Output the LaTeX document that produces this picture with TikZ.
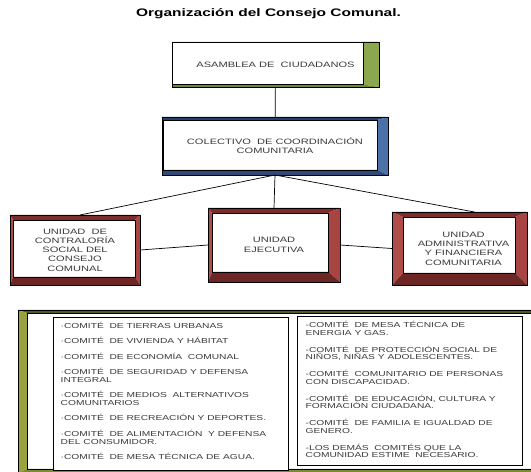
\documentclass[tikz,border=0pt]{standalone}
\usepackage{fontspec}
\usepackage{xcolor}
\usepackage{tikz}
\usetikzlibrary{calc,positioning}

\newfontfamily\orgfont{Liberation Sans}[FakeStretch=1.42]

\definecolor{textogris}{HTML}{3A3A3A}
% caras de los biseles: T arriba, R derecha, B abajo, L izquierda
\definecolor{verdeT}{HTML}{7D9A42}
\definecolor{verdeR}{HTML}{8CA84E}
\definecolor{verdeB}{HTML}{6E8A38}
\definecolor{verdeL}{HTML}{8CA84E}
\definecolor{azulT}{HTML}{24406A}
\definecolor{azulR}{HTML}{4A72A8}
\definecolor{azulB}{HTML}{2C4B7A}
\definecolor{azulL}{HTML}{4A72A8}
\definecolor{rojoT}{HTML}{7E2C2A}
\definecolor{rojoR}{HTML}{A84442}
\definecolor{rojoB}{HTML}{6C2624}
\definecolor{rojoL}{HTML}{B04C4A}
\definecolor{olivaT}{HTML}{4F5A20}
\definecolor{olivaR}{HTML}{98A23E}
\definecolor{olivaB}{HTML}{7E8932}
\definecolor{olivaL}{HTML}{98A23E}

% \bisel{nodo}{izq}{arriba}{der}{abajo}{color}
\newcommand{\bisel}[6]{%
  \coordinate (#1-inw) at ($(#1.north west)+(#2pt,-#3pt)$);
  \coordinate (#1-ine) at ($(#1.north east)+(-#4pt,-#3pt)$);
  \coordinate (#1-ise) at ($(#1.south east)+(-#4pt,#5pt)$);
  \coordinate (#1-isw) at ($(#1.south west)+(#2pt,#5pt)$);
  \fill[#6T] (#1.north west) -- (#1.north east) -- (#1-ine) -- (#1-inw) -- cycle;
  \fill[#6R] (#1.north east) -- (#1.south east) -- (#1-ise) -- (#1-ine) -- cycle;
  \fill[#6B] (#1.south east) -- (#1.south west) -- (#1-isw) -- (#1-ise) -- cycle;
  \fill[#6L] (#1.south west) -- (#1.north west) -- (#1-inw) -- (#1-isw) -- cycle;
  \draw[line width=0.5pt] (#1-inw) rectangle (#1-ise);
  \draw[line width=0.6pt] (#1.north west) rectangle (#1.south east);
}

\tikzset{
  caja/.style={inner sep=0pt,outer sep=0pt,align=center,text=textogris,
    font=\orgfont\fontsize{7.8}{9.3}\selectfont},
  lista/.style={inner sep=0pt,outer sep=0pt,align=left,anchor=north west,text=textogris,
    font=\orgfont\fontsize{7.2}{8}\selectfont},
}

\begin{document}
\begin{tikzpicture}[x=1pt,y=1pt]
  \useasboundingbox (0,0) rectangle (531,472);
  \clip (0,0) rectangle (531,472);

  \node[font=\orgfont\bfseries\fontsize{10.9}{12}\selectfont] (titulo) at (268.5,458)
    {Organización del Consejo Comunal.};

  \begin{scope}[every node/.style={caja}]
    \node[minimum width=207pt,minimum height=45pt] (asamblea) at (275.5,407.5)
      {ASAMBLEA DE\ \ CIUDADANOS};
    \node[minimum width=226pt,minimum height=58pt] (colectivo) at (275,326)
      {COLECTIVO\ \ DE COORDINACIÓN\\COMUNITARIA};
    \node[minimum width=130pt,minimum height=70pt] (contraloria) at (75,222)
      {UNIDAD\ \ DE\\CONTRALORÍA\\SOCIAL DEL\\CONSEJO\\COMUNAL};
    \node[minimum width=132pt,minimum height=74pt] (ejecutiva) at (274,227)
      {UNIDAD\\EJECUTIVA};
    \node[minimum width=135pt,minimum height=73pt] (financiera) at (459.5,223.5)
      {\hspace*{8pt}UNIDAD\\\hspace*{8pt}ADMINISTRATIVA\\\hspace*{8pt}Y FINANCIERA\\\hspace*{8pt}COMUNITARIA};
    \node[minimum width=522pt,minimum height=163pt] (marco) at (279,80.5) {};
  \end{scope}

  \bisel{asamblea}{0}{0}{16}{2.5}{verde}
  \bisel{colectivo}{1}{3}{11}{5}{azul}
  \bisel{contraloria}{3}{5}{5}{8}{rojo}
  \bisel{ejecutiva}{4}{5}{12}{10}{rojo}
  \bisel{financiera}{11}{5}{12}{12}{rojo}
  \bisel{marco}{9}{3}{0}{4}{oliva}

  \begin{scope}[every node/.style={draw=black,line width=0.6pt,fill=white,inner sep=0pt}]
    \node[minimum width=235pt,minimum height=153pt] (comitesA) at (170.5,78.5) {};
    \node[minimum width=225pt,minimum height=149pt] (comitesB) at (409.5,81.5) {};
  \end{scope}

  \node[lista] (listaA) at ([xshift=8pt,yshift=-5.5pt]comitesA.north west)
    {·COMITÉ\ \ DE TIERRAS URBANAS\\[7.3pt]
     ·COMITÉ\ \ DE VIVIENDA Y HÁBITAT\\[7.3pt]
     ·COMITÉ\ \ DE ECONOMÍA\ \ COMUNAL\\[7.3pt]
     ·COMITÉ\ \ DE SEGURIDAD Y DEFENSA\\INTEGRAL\\[7.3pt]
     ·COMITÉ\ \ DE MEDIOS\ \ ALTERNATIVOS\\COMUNITARIOS\\[7.3pt]
     ·COMITÉ\ \ DE RECREACIÓN Y DEPORTES.\\[7.3pt]
     ·COMITÉ\ \ DE ALIMENTACIÓN\ \ Y DEFENSA\\DEL CONSUMIDOR.\\[7.3pt]
     ·COMITÉ\ \ DE MESA TÉCNICA DE AGUA.};
  \node[lista,font=\orgfont\fontsize{7.2}{7.5}\selectfont] (listaB) at ([xshift=9pt,yshift=-6pt]comitesB.north west)
    {-COMITÉ\ \ DE MESA TÉCNICA DE\\ENERGIA Y GAS.\\[9.5pt]
     -COMITÉ\ \ DE PROTECCIÓN SOCIAL DE\\NIÑOS, NIÑAS Y ADOLESCENTES.\\[9.5pt]
     -COMITÉ\ \ COMUNITARIO DE PERSONAS\\CON DISCAPACIDAD.\\[9.5pt]
     -COMITÉ\ \ DE EDUCACIÓN, CULTURA Y\\FORMACIÓN CIUDADANA.\\[9.5pt]
     -COMITÉ\ \ DE FAMILIA E IGUALDAD DE\\GENERO.\\[9.5pt]
     -LOS DEMÁS\ \ COMITÉS QUE LA\\COMUNIDAD ESTIME\ \ NECESARIO.};

  \begin{scope}[every edge/.style={draw=black,line width=0.7pt}]
    \path (asamblea) edge (colectivo);
    \path (colectivo.south) edge ([xshift=5pt]contraloria.north);
    \path (colectivo.south) edge (ejecutiva.north);
    \path (colectivo.south) edge ([xshift=15pt]financiera.north);
    \path (contraloria.east) edge (ejecutiva.west);
    \path (ejecutiva.east) edge (financiera.west);
  \end{scope}
\end{tikzpicture}
\end{document}
